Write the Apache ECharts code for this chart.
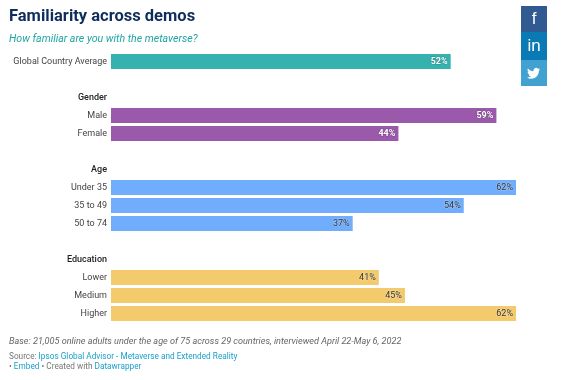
<!DOCTYPE html>
<html>
<head>
<meta charset="utf-8">
<style>
  html, body { margin: 0; padding: 0; background: #fff; }
  #chart { width: 565px; height: 380px; }
</style>
<script src="https://cdn.jsdelivr.net/npm/echarts@6/dist/echarts.min.js"></script>
</head>
<body>
<div id="chart"></div>
<script>
const categories = ['Global Country Average', ' ', 'Gender', 'Male', 'Female', '  ', 'Age', 'Under 35', '35 to 49', '50 to 74', '   ', 'Education', 'Lower', 'Medium', 'Higher'];
const values = [52, null, null, 59, 44, null, null, 62, 54, 37, null, null, 41, 45, 62];
const barColors = ['#35b2b0', null, null, '#9b59ab', '#9b59ab', null, null, '#70adfc', '#70adfc', '#70adfc', null, null, '#f4cb6c', '#f4cb6c', '#f4cb6c'];
const labelColors = ['#fff', null, null, '#fff', '#fff', null, null, '#333', '#333', '#333', null, null, '#333', '#333', '#333'];
const groupHeaders = ['Gender', 'Age', 'Education'];

const twitterPath = 'M23.953 4.57 a10 10 0 0 1 -2.825 .775 a4.958 4.958 0 0 0 2.163 -2.723 c-.951.555-2.005.959-3.127 1.184 a4.92 4.92 0 0 0 -8.384 4.482 C7.69 8.095 4.067 6.13 1.64 3.162 a4.822 4.822 0 0 0 -.666 2.475 c0 1.71.87 3.213 2.188 4.096 a4.904 4.904 0 0 1 -2.228 -.616 v.06 a4.923 4.923 0 0 0 3.946 4.827 a4.996 4.996 0 0 1 -2.212 .085 a4.936 4.936 0 0 0 4.604 3.417 a9.867 9.867 0 0 1 -6.102 2.105 c-.39 0-.779-.023-1.17-.067 a13.995 13.995 0 0 0 7.557 2.209 c9.053 0 13.998-7.496 13.998-13.985 c0-.21 0-.42-.015-.63 A9.935 9.935 0 0 0 24 4.59 z';
echarts.graphic.registerShape('twitterBird', echarts.graphic.extendPath(twitterPath, {}));

const myChart = echarts.init(document.getElementById('chart'), null, { renderer: 'canvas' });

myChart.setOption({
  animation: false,
  textStyle: { fontFamily: 'Roboto' },
  grid: { left: 111, top: 52.5, width: 405, height: 270 },
  xAxis: { type: 'value', min: 0, max: 62, show: false },
  yAxis: {
    type: 'category',
    inverse: true,
    data: categories,
    axisLine: { show: false },
    axisTick: { show: false },
    axisLabel: {
      interval: 0,
      margin: 4,
      fontSize: 9,
      color: '#444',
      formatter: v => groupHeaders.includes(v) ? '{b|' + v + '}' : v,
      rich: { b: { fontSize: 9, fontWeight: 500, color: '#222', fontFamily: 'Roboto' } }
    }
  },
  series: [{
    type: 'bar',
    barWidth: 15,
    data: values.map((v, i) => ({
      value: v,
      itemStyle: { color: barColors[i] },
      label: {
        color: labelColors[i],
        fontWeight: labelColors[i] === '#fff' ? 700 : 400,
        textBorderColor: labelColors[i] === '#fff' ? 'rgba(0,0,0,0.2)' : 'rgba(255,255,255,0.3)',
        textBorderWidth: 1
      }
    })),
    label: {
      show: true,
      position: 'insideRight',
      distance: 3,
      fontSize: 9,
      formatter: p => p.value + '%'
    }
  }],
  graphic: [
    { type: 'text', left: 9, top: 8, style: { text: 'Familiarity across demos', fontFamily: 'Roboto', fontSize: 16.5, fontWeight: 700, fill: '#0f2d5c' } },
    { type: 'text', left: 9, top: 34, style: { text: 'How familiar are you with the metaverse?', fontFamily: 'Roboto', fontSize: 10.6, fontStyle: 'italic', fill: '#1fa5a5' } },
    { type: 'text', left: 9, top: 337, style: { text: 'Base: 21,005 online adults under the age of 75 across 29 countries, interviewed April 22-May 6, 2022', fontFamily: 'Roboto', fontSize: 9.1, fontStyle: 'italic', fill: '#666' } },
    {
      type: 'text', left: 9, top: 353,
      style: {
        text: '{g|Source: }{l|Ipsos Global Advisor - Metaverse and Extended Reality}',
        fontFamily: 'Roboto', fontSize: 8.25,
        rich: { g: { fill: '#777', fontSize: 8.25, fontFamily: 'Roboto' }, l: { fill: '#1ba0c9', fontSize: 8.25, fontFamily: 'Roboto' } }
      }
    },
    {
      type: 'text', left: 9, top: 363,
      style: {
        text: '{g|• }{l|Embed}{g| • Created with }{l|Datawrapper}',
        fontFamily: 'Roboto', fontSize: 8.25,
        rich: { g: { fill: '#777', fontSize: 8.25, fontFamily: 'Roboto' }, l: { fill: '#1ba0c9', fontSize: 8.25, fontFamily: 'Roboto' } }
      }
    },
    { type: 'rect', shape: { x: 521, y: 6, width: 26, height: 26 }, style: { fill: '#315a93' } },
    { type: 'rect', shape: { x: 521, y: 32, width: 26, height: 28 }, style: { fill: '#0a7ab5' } },
    { type: 'rect', shape: { x: 521, y: 60, width: 26, height: 26 }, style: { fill: '#41a1d0' } },
    { type: 'text', x: 534, y: 19, style: { text: 'f', fontFamily: 'Liberation Sans', fontSize: 17, fill: '#fff', align: 'center', verticalAlign: 'middle' } },
    { type: 'text', x: 534, y: 46, style: { text: 'in', fontFamily: 'Liberation Sans', fontSize: 17, fill: '#fff', align: 'center', verticalAlign: 'middle' } },
    { type: 'twitterBird', x: 527, y: 66.7, scaleX: 0.55, scaleY: 0.55, style: { fill: '#fff' } }
  ]
});
</script>
</body>
</html>
